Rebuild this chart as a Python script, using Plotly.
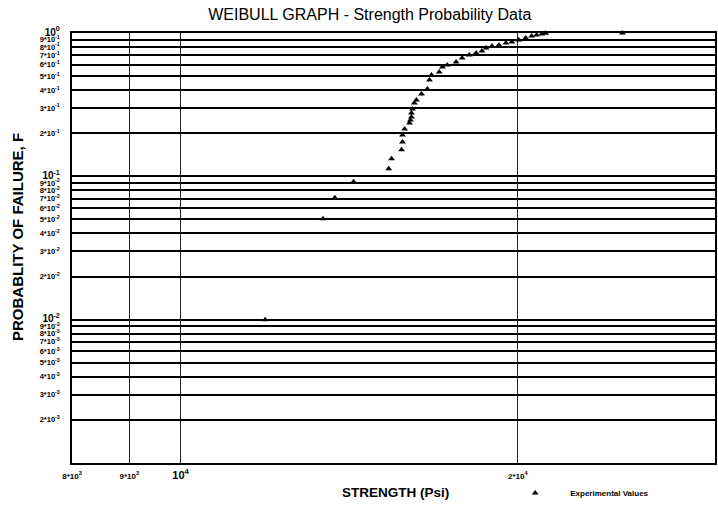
import plotly.graph_objects as go

strength = [11900, 13400, 13730, 14270, 15340, 15430, 15750, 15780, 15780, 15850,
            16010, 16040, 16075, 16075, 16110, 16170, 16240, 16410, 16610, 16680,
            16750, 17020, 17130, 17300, 17620, 17840, 18100, 18360, 18580, 18740,
            18970, 19240, 19520, 19760, 20040, 20330, 20580, 20790, 21010, 21180,
            24800]
prob_fail = [0.0100, 0.0506, 0.0708, 0.0915, 0.1128, 0.1324, 0.1530, 0.1739, 0.1946, 0.2143,
             0.2359, 0.2475, 0.2598, 0.2770, 0.2954, 0.3252, 0.3412, 0.3757, 0.4072, 0.4704,
             0.5097, 0.5347, 0.5795, 0.5984, 0.6279, 0.6696, 0.7027, 0.7256, 0.7491, 0.7861,
             0.8116, 0.8249, 0.8518, 0.8655, 0.8938, 0.9230, 0.9530, 0.9685, 0.9850, 0.9950,
             1.0000]

x_tickvals = [8000, 9000, 10000, 20000, 30000]
x_ticktext = ["8*10<sup>3</sup>", "9*10<sup>3</sup>",
              "<span style='font-size:11px'>10<sup>4</sup></span>",
              "2*10<sup>4</sup>", "3*10<sup>4</sup>"]

y_tickvals = [1.0, 0.9, 0.8, 0.7, 0.6, 0.5, 0.4, 0.3, 0.2,
              0.1, 0.09, 0.08, 0.07, 0.06, 0.05, 0.04, 0.03, 0.02,
              0.01, 0.009, 0.008, 0.007, 0.006, 0.005, 0.004, 0.003, 0.002]
y_ticktext = ["<span style='font-size:10px'>10<sup>0</sup></span>",
              "9*10<sup>-1</sup>", "8*10<sup>-1</sup>", "7*10<sup>-1</sup>", "6*10<sup>-1</sup>",
              "5*10<sup>-1</sup>", "4*10<sup>-1</sup>", "3*10<sup>-1</sup>", "2*10<sup>-1</sup>",
              "<span style='font-size:10px'>10<sup>-1</sup></span>",
              "9*10<sup>-2</sup>", "8*10<sup>-2</sup>", "7*10<sup>-2</sup>", "6*10<sup>-2</sup>",
              "5*10<sup>-2</sup>", "4*10<sup>-2</sup>", "3*10<sup>-2</sup>", "2*10<sup>-2</sup>",
              "<span style='font-size:10px'>10<sup>-2</sup></span>",
              "9*10<sup>-3</sup>", "8*10<sup>-3</sup>", "7*10<sup>-3</sup>", "6*10<sup>-3</sup>",
              "5*10<sup>-3</sup>", "4*10<sup>-3</sup>", "3*10<sup>-3</sup>", "2*10<sup>-3</sup>"]

fig = go.Figure()
fig.add_trace(go.Scatter(
    x=strength, y=prob_fail, mode="markers", name="Experimental Values",
    marker=dict(symbol="triangle-up", size=6, color="black"),
    cliponaxis=False,
))

fig.update_layout(
    width=718, height=506,
    margin=dict(l=72, r=3, t=33, b=43, autoexpand=False),
    paper_bgcolor="white", plot_bgcolor="white",
    font=dict(family="Liberation Sans, Arial, sans-serif", color="black"),
    title=dict(text="WEIBULL GRAPH - Strength Probability Data",
               x=0.515, xref="container", xanchor="center",
               y=1 - 14 / 506, yref="container", yanchor="middle",
               font=dict(size=16, color="black")),
    showlegend=True,
    legend=dict(x=0.666, y=-0.036, xanchor="left", yanchor="top",
                orientation="h", bgcolor="rgba(0,0,0,0)",
                font=dict(size=8, weight="bold"), itemwidth=60),
    xaxis=dict(type="log", range=[3.90309, 4.47712], automargin=False,
               tickvals=x_tickvals, ticktext=x_ticktext, tickangle=0,
               tickfont=dict(size=8, weight="bold"), ticks="", ticklabelstandoff=4,
               showgrid=True, gridcolor="#222", gridwidth=1.2,
               showline=True, linecolor="black", linewidth=2, mirror=True,
               zeroline=False),
    yaxis=dict(type="log", range=[-3, 0], automargin=False,
               tickvals=y_tickvals, ticktext=y_ticktext,
               tickfont=dict(size=7.5, weight="bold"), ticks="", ticklabelstandoff=9,
               showgrid=True, gridcolor="black", gridwidth=2,
               showline=True, linecolor="black", linewidth=1.5, mirror=True,
               zeroline=False),
    annotations=[
        dict(text="<b>PROBABLITY OF FAILURE, F</b>", textangle=-90,
             x=17, y=237, xref="paper", yref="paper", showarrow=False,
             xanchor="center", yanchor="middle", font=dict(size=15)),
        dict(text="<b>STRENGTH (Psi)</b>",
             x=395, y=493, xref="paper", yref="paper", showarrow=False,
             xanchor="center", yanchor="middle", font=dict(size=13.5)),
    ],
)

# convert pixel-placed annotations to paper coordinates
for a in fig.layout.annotations:
    a.x = (a.x - 72) / 643
    a.y = (463 - a.y) / 430

fig.write_html("out.html", config={"displayModeBar": False},
               post_script="document.body.style.margin='0';document.body.style.overflow='hidden';")
